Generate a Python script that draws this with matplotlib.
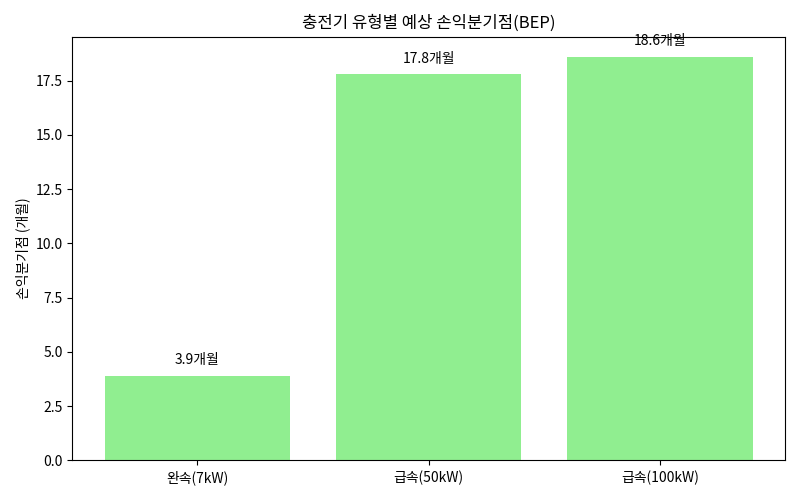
import matplotlib

matplotlib.use("Agg")
import matplotlib.pyplot as plt

plt.rcParams["font.family"] = ["Noto Sans CJK KR", "DejaVu Sans"]

# 충전기 유형별 손익분기점 (개월)
charger_types = ["완속(7kW)", "급속(50kW)", "급속(100kW)"]
bep_months = [3.9, 17.8, 18.6]

fig, ax = plt.subplots(figsize=(8, 5), dpi=100)
bars = ax.bar(charger_types, bep_months, color="lightgreen")

for bar, value in zip(bars, bep_months):
    ax.text(
        bar.get_x() + bar.get_width() / 2,
        bar.get_height() + 0.4,
        f"{value:.1f}개월",
        ha="center",
        va="bottom",
    )

ax.set_title("충전기 유형별 예상 손익분기점(BEP)")
ax.set_ylabel("손익분기점 (개월)")

plt.tight_layout()
plt.savefig("out.png", dpi=100)
